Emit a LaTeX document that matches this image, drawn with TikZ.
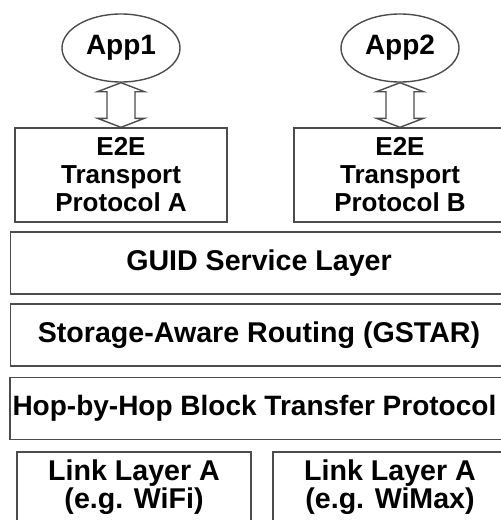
\documentclass[tikz,border=0pt]{standalone}
\usepackage{fontspec}
\setmainfont{Liberation Sans}
\usetikzlibrary{shapes.geometric,calc}

\begin{document}
\begin{tikzpicture}[x=0.5pt,y=0.5pt]
\tikzset{
    app/.style={ellipse, draw=black!70, line width=0.7pt, minimum width=59pt, minimum height=34pt, inner sep=0pt, font=\fontsize{14}{16}\selectfont\bfseries},
    transport/.style={rectangle, draw=black!70, line width=0.7pt, minimum width=106pt, minimum height=47pt, align=center, font=\fontsize{13}{14}\selectfont\bfseries},
    layer/.style={rectangle, draw=black!70, line width=0.7pt, minimum width=248.5pt, minimum height=31pt, font=\fontsize{14.3}{16}\selectfont\bfseries},
    link/.style={rectangle, draw=black!70, line width=0.7pt, minimum width=117pt, minimum height=35pt, align=center, font=\fontsize{14.3}{14}\selectfont\bfseries},
    fatarrow/.style={draw=black!70, line width=0.7pt, fill=white, line join=miter}
}

% Рамка і обрізання
\useasboundingbox (0,0) rectangle (501,-520);
\clip (0,0) rectangle (501,-520);

% Застосунки
\node[app] (app1) at (121,-48) {App1};
\node[app] (app2) at (400,-48) {App2};

% Транспортні протоколи
\node[transport] (e2eA) at (121,-175) {E2E\\Transport\\Protocol A};
\node[transport] (e2eB) at (400,-175) {E2E\\Transport\\Protocol B};

% Шари стеку
\node[layer] (guid) at (259,-263) {GUID Service Layer};
\node[layer] (gstar) at (259,-335) {Storage-Aware Routing (GSTAR)};
\node[layer, text width=246pt, inner xsep=1.25pt, align=flush left, font=\fontsize{14}{16}\selectfont\bfseries] (hbh) at (258.5,-408.5) {Hop-by-Hop Block Transfer Protocol};

% Канальні шари
\node[link] (linkA) at (134,-487) {Link Layer A\\(e.g. WiFi)};
\node[link] (linkB) at (390,-487) {Link Layer A\\(e.g. WiMax)};

% Подвійні стрілки
\draw[fatarrow] (app1.south) -- ++(-23.5,-9) -- ++(9.5,0) -- ($(e2eA.north)+(-14,9)$) -- ++(-9.5,0) -- (e2eA.north) -- ++(23.5,9) -- ++(-9.5,0) -- ($(app1.south)+(14,-9)$) -- ++(9.5,0) -- cycle;
\draw[fatarrow] (app2.south) -- ++(-23.5,-9) -- ++(9.5,0) -- ($(e2eB.north)+(-14,9)$) -- ++(-9.5,0) -- (e2eB.north) -- ++(23.5,9) -- ++(-9.5,0) -- ($(app2.south)+(14,-9)$) -- ++(9.5,0) -- cycle;
\end{tikzpicture}
\end{document}
